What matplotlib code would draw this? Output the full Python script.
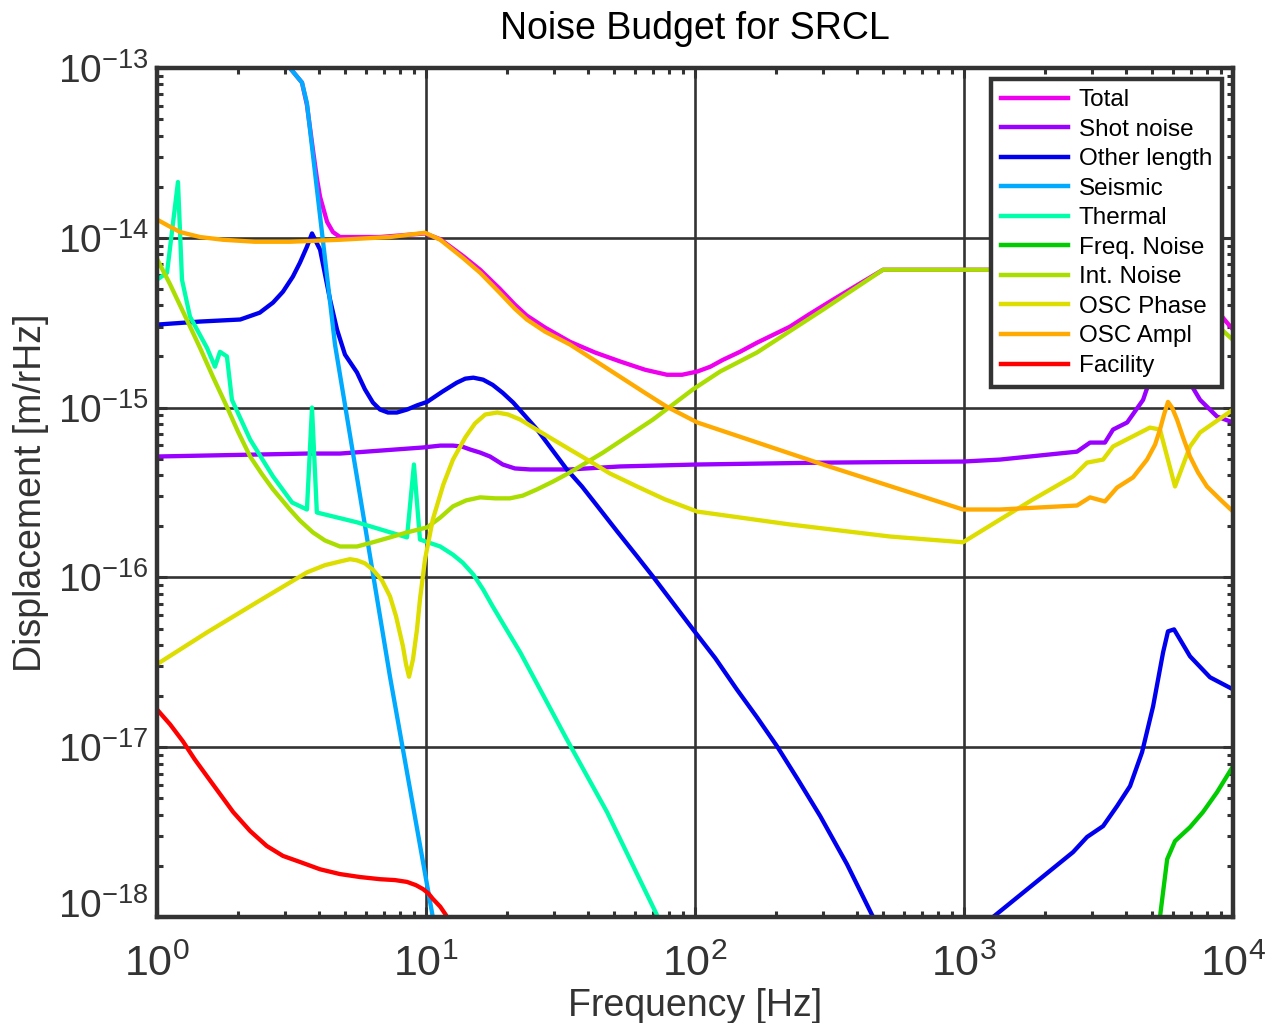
import numpy as np
import matplotlib
matplotlib.use("Agg")
import matplotlib.pyplot as plt
import matplotlib.transforms as mtransforms
from matplotlib.ticker import LogLocator, NullFormatter

# noise curves, frequency [Hz] / displacement [m/rHz]
f_total = [3.12, 3.46, 3.61, 3.80, 3.93, 4.04, 4.29, 4.51, 4.79, 6.75, 9.92, 11.3, 13.7, 15.9,
           18.8, 21.4, 23.7, 27.7, 34.3, 42.5, 52.6, 65.2, 78.7, 89.5, 102, 114, 127, 147,
           170, 225, 268, 326, 404, 500, 1177, 3205, 5730, 7540, 9500, 1e4]
d_total = [1.0e-13, 8.2e-14, 6.05e-14, 3.3e-14, 2.25e-14, 1.74e-14, 1.24e-14, 1.08e-14,
           1.01e-14, 1.01e-14, 1.06e-14, 9.8e-15, 7.83e-15, 6.48e-15, 5.01e-15, 4.04e-15,
           3.48e-15, 2.96e-15, 2.44e-15, 2.11e-15, 1.87e-15, 1.67e-15, 1.56e-15, 1.56e-15,
           1.63e-15, 1.74e-15, 1.91e-15, 2.13e-15, 2.41e-15, 2.99e-15, 3.57e-15, 4.32e-15,
           5.3e-15, 6.48e-15, 6.48e-15, 6.5e-15, 8.5e-15, 4.94e-15, 3.16e-15, 2.88e-15]

f_shot = [1.0, 3.61, 4.79, 9.75, 11.3, 12.6, 13.6, 14.6, 15.9, 17.3, 19.3, 21.4, 24.4, 28.9,
          34.3, 52.6, 102, 299, 991, 1360, 2630, 2940, 3340, 3580, 4040, 4630, 4910, 5730,
          6800, 7540, 8720, 1e4]
d_shot = [5.15e-16, 5.36e-16, 5.36e-16, 5.82e-16, 5.97e-16, 5.97e-16, 5.9e-16, 5.66e-16,
          5.43e-16, 5.15e-16, 4.62e-16, 4.38e-16, 4.32e-16, 4.32e-16, 4.32e-16, 4.5e-16,
          4.62e-16, 4.74e-16, 4.81e-16, 4.94e-16, 5.5e-16, 6.22e-16, 6.22e-16, 7.42e-16,
          8.17e-16, 1.11e-15, 1.46e-15, 4.32e-15, 1.46e-15, 1.11e-15, 8.85e-16, 8.17e-16]

# minimum of the other length curve lies below the plot floor -> gap
f_other = [1.0, 1.445, 2.04, 2.41, 2.70, 2.94, 3.20, 3.40, 3.61, 3.77, 4.04, 4.40, 4.67, 5.00,
           5.54, 5.93, 6.35, 6.75, 7.22, 7.80, 8.5, 9.26, 10.1, 11.5, 13.0, 14.0, 15.0, 16.3,
           17.7, 19.3, 21.1, 23.3, 25.9, 29.4, 33.4, 38.0, 43.2, 51.3, 60.9, 69.8, 98.3, 119,
           143, 170, 202, 242, 292, 367, 459,
           np.nan, 1282, 2542, 2866, 3288, 3706, 4141, 4590, 5044, 5495, 5730, 6035, 6918,
           8210, 1e4]
d_other = [3.08e-15, 3.21e-15, 3.3e-15, 3.62e-15, 4.15e-15, 4.81e-15, 5.9e-15, 7.13e-15,
           8.85e-15, 1.06e-14, 8.5e-15, 4.32e-15, 2.88e-15, 2.05e-15, 1.61e-15, 1.28e-15,
           1.07e-15, 9.73e-16, 9.35e-16, 9.35e-16, 9.73e-16, 1.03e-15, 1.08e-15, 1.24e-15,
           1.4e-15, 1.48e-15, 1.5e-15, 1.46e-15, 1.36e-15, 1.22e-15, 1.07e-15, 8.97e-16,
           7.42e-16, 5.66e-16, 4.32e-16, 3.43e-16, 2.65e-16, 1.87e-16, 1.33e-16, 1.01e-16,
           4.94e-17, 3.34e-17, 2.19e-17, 1.5e-17, 1.01e-17, 6.4e-18, 3.93e-18, 2.05e-18,
           1.0e-18,
           np.nan, 1.0e-18, 2.41e-18, 2.96e-18, 3.43e-18, 4.5e-18, 5.9e-18, 9.35e-18,
           1.74e-17, 3.62e-17, 4.81e-17, 4.94e-17, 3.43e-17, 2.58e-17, 2.19e-17]

f_seis = [3.12, 3.46, 3.61, 4.59, 7.35, 10.6]
d_seis = [1.0e-13, 8.2e-14, 6.2e-14, 2.35e-15, 2.6e-17, 1.0e-18]

f_therm = [1.0, 1.09, 1.197, 1.239, 1.327, 1.534, 1.643, 1.715, 1.82, 1.90, 2.22, 2.70, 3.18,
           3.61, 3.77, 3.93, 5.54, 8.5, 9.02, 9.50, 11.3, 12.6, 13.7, 15.0, 16.3, 17.7, 19.7,
           22.4, 33.4, 47.1, 72.8]
d_therm = [5.66e-15, 6.22e-15, 2.13e-14, 5.66e-15, 3.43e-15, 2.25e-15, 1.74e-15, 2.13e-15,
           2.0e-15, 1.11e-15, 6.48e-16, 3.93e-16, 2.76e-16, 2.51e-16, 1.0e-15, 2.41e-16,
           2.11e-16, 1.72e-16, 4.62e-16, 1.67e-16, 1.52e-16, 1.36e-16, 1.22e-16, 1.04e-16,
           8.5e-17, 6.75e-17, 5.08e-17, 3.62e-17, 1.11e-17, 4.15e-18, 1.0e-18]

f_freq = [5350, 5690, 6085, 6918, 7730, 8720, 1e4]
d_freq = [1.0e-18, 2.19e-18, 2.8e-18, 3.38e-18, 4.15e-18, 5.43e-18, 7.73e-18]

f_int = [1.0, 1.12, 1.27, 1.445, 1.62, 1.82, 2.0, 2.22, 2.46, 2.70, 3.12, 3.40, 3.80, 4.21,
         4.79, 5.54, 6.35, 7.35, 8.5, 10.1, 11.3, 12.6, 14.1, 15.9, 18.1, 20.5, 22.9, 25.9,
         29.7, 34.3, 45.5, 69.8, 98.3, 124, 170, 299, 500, 1177, 4910, 7540, 1e4]
d_int = [7.52e-15, 5.3e-15, 3.48e-15, 2.25e-15, 1.5e-15, 1.01e-15, 7.23e-16, 5.15e-16,
         4.04e-16, 3.3e-16, 2.51e-16, 2.16e-16, 1.84e-16, 1.65e-16, 1.52e-16, 1.52e-16,
         1.61e-16, 1.72e-16, 1.84e-16, 1.97e-16, 2.25e-16, 2.62e-16, 2.84e-16, 2.96e-16,
         2.92e-16, 2.92e-16, 3.03e-16, 3.3e-16, 3.67e-16, 4.15e-16, 5.43e-16, 8.5e-16,
         1.28e-15, 1.63e-15, 2.11e-15, 3.77e-15, 6.48e-15, 6.48e-15, 6.3e-15, 3.77e-15,
         2.5e-15]

f_phase = [1.0, 1.534, 2.35, 3.61, 4.21, 4.79, 5.22, 5.54, 5.93, 6.35, 6.86, 7.35, 7.74, 8.21,
           8.43, 8.65, 8.95, 9.26, 9.50, 9.92, 10.6, 11.6, 12.6, 14.0, 15.2, 16.6, 18.4,
           20.2, 22.4, 25.4, 29.7, 34.3, 39.7, 48.3, 60.9, 77.3, 102, 225, 531, 991, 1360,
           1806, 2542, 2866, 3288, 3580, 4910, 5350, 6085, 6918, 7540, 1e4]
d_phase = [3.08e-17, 4.74e-17, 7.13e-17, 1.07e-16, 1.18e-16, 1.24e-16, 1.28e-16, 1.26e-16,
           1.21e-16, 1.11e-16, 9.6e-17, 7.73e-17, 5.9e-17, 3.93e-17, 3.08e-17, 2.6e-17,
           3.3e-17, 4.94e-17, 7.43e-17, 1.28e-16, 2.19e-16, 3.52e-16, 4.94e-16, 6.67e-16,
           8.05e-16, 9.1e-16, 9.35e-16, 9.1e-16, 8.5e-16, 7.52e-16, 6.48e-16, 5.66e-16,
           4.94e-16, 4.09e-16, 3.43e-16, 2.88e-16, 2.44e-16, 2.05e-16, 1.74e-16, 1.61e-16,
           2.19e-16, 2.88e-16, 3.93e-16, 4.74e-16, 4.94e-16, 5.9e-16, 7.62e-16, 7.42e-16,
           3.43e-16, 5.9e-16, 7.13e-16, 9.73e-16]

f_ampl = [1.0, 1.12, 1.22, 1.445, 1.76, 2.31, 3.12, 4.79, 7.35, 9.92, 11.3, 13.7, 15.9, 18.8,
          21.4, 23.7, 27.7, 34.3, 42.5, 52.6, 65.2, 78.7, 102, 299, 991, 1360, 2630, 2940,
          3340, 3706, 4250, 4790, 5130, 5350, 5540, 5730, 5930, 6190, 6520, 6918, 7410,
          8000, 8950, 1e4]
d_ampl = [1.28e-14, 1.16e-14, 1.08e-14, 1.01e-14, 9.73e-15, 9.47e-15, 9.47e-15, 9.73e-15,
          1.01e-14, 1.07e-14, 9.73e-15, 7.62e-15, 6.22e-15, 4.74e-15, 3.82e-15, 3.3e-15,
          2.8e-15, 2.35e-15, 1.89e-15, 1.52e-15, 1.22e-15, 1.01e-15, 8.17e-16, 4.62e-16,
          2.51e-16, 2.51e-16, 2.65e-16, 2.96e-16, 2.8e-16, 3.38e-16, 3.88e-16, 4.94e-16,
          6.05e-16, 7.42e-16, 9.1e-16, 1.08e-15, 1.0e-15, 8.5e-16, 6.67e-16, 5.15e-16,
          4.15e-16, 3.43e-16, 2.88e-16, 2.44e-16]

f_fac = [1.0, 1.12, 1.25, 1.38, 1.534, 1.715, 1.92, 2.22, 2.56, 2.94, 3.40, 4.04, 4.79, 5.68,
         6.75, 7.67, 8.5, 9.18, 9.75, 10.2, 10.6, 11.3, 11.8]
d_fac = [1.67e-17, 1.36e-17, 1.08e-17, 8.5e-18, 6.75e-18, 5.3e-18, 4.15e-18, 3.21e-18,
         2.62e-18, 2.29e-18, 2.11e-18, 1.91e-18, 1.79e-18, 1.72e-18, 1.67e-18, 1.65e-18,
         1.61e-18, 1.54e-18, 1.46e-18, 1.38e-18, 1.28e-18, 1.15e-18, 1.04e-18]

curves = [
    (f_total, d_total, '#EE00EE', 'Total'),
    (f_shot, d_shot, '#9900FF', 'Shot noise'),
    (f_other, d_other, '#0000EE', 'Other length'),
    (f_seis, d_seis, '#00AAFF', 'Seismic'),
    (f_therm, d_therm, '#00FFAA', 'Thermal'),
    (f_freq, d_freq, '#00CC00', 'Freq. Noise'),
    (f_int, d_int, '#AADD00', 'Int. Noise'),
    (f_phase, d_phase, '#DDDD00', 'OSC Phase'),
    (f_ampl, d_ampl, '#FFAA00', 'OSC Ampl'),
    (f_fac, d_fac, '#FF0000', 'Facility'),
]

x_ticks = [1, 10, 100, 1000, 10000]
y_ticks = [1e-18, 1e-17, 1e-16, 1e-15, 1e-14, 1e-13]

dark = '#333333'
narrow = ['Liberation Sans Narrow', 'Liberation Sans']

fig = plt.figure(figsize=(12.75, 10.23), dpi=100)
ax = fig.add_axes([0.1231, 0.1036, 0.8440, 0.8300])

for f, d, c, lab in curves:
    ax.loglog(f, d, color=c, lw=3.1, label=lab, solid_joinstyle='round')

ax.set_xlim(1, 1e4)
ax.set_ylim(1e-18, 1e-13)
ax.set_xticks(x_ticks)
ax.set_yticks(y_ticks)
ax.xaxis.set_minor_locator(LogLocator(base=10, subs=np.arange(2, 10)))
ax.yaxis.set_minor_locator(LogLocator(base=10, subs=np.arange(2, 10)))
ax.xaxis.set_minor_formatter(NullFormatter())
ax.yaxis.set_minor_formatter(NullFormatter())

ax.grid(True, which='major', color=dark, lw=1.9, ls='-')
ax.tick_params(which='both', direction='in', top=True, right=True, color=dark)
ax.tick_params(which='major', length=7, width=2.2)
ax.tick_params(which='minor', length=4.5, width=2.2)
ax.tick_params(axis='x', which='major', labelsize=31, pad=20, labelcolor=dark)
ax.tick_params(axis='y', which='major', labelsize=28, pad=6, labelcolor=dark)
for t in ax.get_xticklabels():
    t.set_family(narrow)
for t in ax.get_yticklabels():
    t.set_family('Liberation Sans')
for sp in ax.spines.values():
    sp.set_linewidth(3.2)
    sp.set_color(dark)

ax.set_title('Noise Budget for SRCL', fontsize=27, family=narrow, pad=21)
ax.set_xlabel('Frequency [Hz]', fontsize=27, family=narrow, color=dark, labelpad=2)
ax.set_ylabel('Displacement [m/rHz]', fontsize=27, family=narrow, color=dark, labelpad=6)

leg = ax.legend(loc='upper right', prop={'family': 'Liberation Sans', 'size': 17.5},
                fancybox=False, framealpha=1, edgecolor=dark, handlelength=2.75,
                handletextpad=0.45, labelspacing=0.31, borderpad=0.42, borderaxespad=0.45)
leg.get_frame().set_linewidth(3.2)
for ln in leg.get_lines():
    ln.set_linewidth(3.2)

# lift the bottom y label a little so it clears the 10^0 label
fig.canvas.draw()
lab0 = ax.yaxis.get_major_ticks()[0].label1
lab0.set_transform(lab0.get_transform()
                   + mtransforms.ScaledTranslation(0, 14 / 100, fig.dpi_scale_trans))

fig.savefig('out.png', dpi=100)
